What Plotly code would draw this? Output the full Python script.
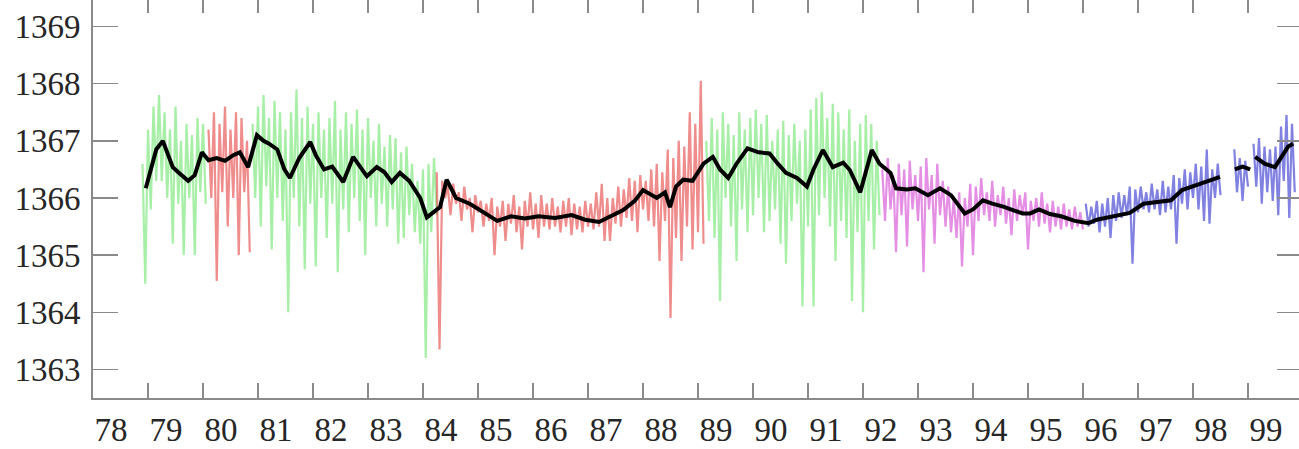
import plotly.graph_objects as go

# ---------------- data ----------------
# x: years (19xx), y: total solar irradiance (W/m^2)
year_ticks = [78, 79, 80, 81, 82, 83, 84, 85, 86, 87, 88, 89, 90, 91, 92, 93, 94, 95, 96, 97, 98, 99]
value_ticks = [1363, 1364, 1365, 1366, 1367, 1368, 1369]

# HF (green) 1978.9 - 1980.1 : sample times, upper value, lower value (lower sampled half a step later)
hf1_t = [78.9, 79.0, 79.1, 79.2, 79.3, 79.4, 79.5, 79.6, 79.7, 79.8, 79.9, 80.0]
hf1_hi = [1366.6, 1367.2, 1367.6, 1367.8, 1367.5, 1367.2, 1367.6, 1367.0, 1367.3, 1367.1, 1367.4, 1367.3]
hf1_lo = [1364.5, 1365.8, 1366.3, 1366.3, 1366.0, 1365.2, 1365.9, 1365.0, 1366.0, 1365.0, 1366.1, 1365.9]

# ACRIM I (red) 1980.1 - 1980.8
ac1_t = [80.1, 80.2, 80.3, 80.4, 80.5, 80.6, 80.7, 80.8]
ac1_hi = [1367.2, 1367.5, 1367.3, 1367.6, 1367.2, 1367.5, 1367.4, 1367.0]
ac1_lo = [1366.0, 1364.55, 1366.1, 1365.5, 1366.0, 1365.0, 1366.1, 1365.05]

# HF (green) 1980.9 - 1984.2
hf2_t = [80.9, 81.0, 81.1, 81.2, 81.3, 81.4, 81.5, 81.6, 81.7, 81.8, 81.9, 82.0,
         82.1, 82.2, 82.3, 82.4, 82.5, 82.6, 82.7, 82.8, 82.9, 83.0, 83.1, 83.2,
         83.3, 83.4, 83.5, 83.6, 83.7, 83.8, 83.9, 84.0, 84.1, 84.2]
hf2_hi = [1367.3, 1367.6, 1367.8, 1367.4, 1367.7, 1367.5, 1367.2, 1367.5, 1367.9, 1367.4, 1367.6, 1367.3,
          1367.5, 1367.2, 1367.4, 1367.7, 1367.2, 1367.5, 1367.3, 1367.55, 1367.2, 1367.4, 1367.0, 1367.3,
          1366.9, 1367.1, 1367.05, 1366.8, 1366.9, 1366.6, 1366.3, 1366.5, 1366.6, 1366.7]
hf2_lo = [1366.0, 1365.5, 1366.2, 1365.1, 1366.0, 1365.6, 1364.0, 1366.0, 1365.5, 1364.75, 1365.9, 1364.8,
          1366.0, 1365.3, 1365.9, 1364.7, 1365.8, 1365.4, 1366.0, 1365.6, 1365.0, 1366.0, 1365.5, 1365.9,
          1365.5, 1365.8, 1365.2, 1365.3, 1365.7, 1365.4, 1365.2, 1363.2, 1365.4, 1365.7]

# ACRIM I (red) 1984.25 - 1989.05
ac2_t = [84.25, 84.35, 84.45, 84.55, 84.65, 84.75, 84.85, 84.95, 85.05, 85.15, 85.25, 85.35,
         85.45, 85.55, 85.65, 85.75, 85.85, 85.95, 86.05, 86.15, 86.25, 86.35, 86.45, 86.55,
         86.65, 86.75, 86.85, 86.95, 87.05, 87.15, 87.25, 87.35, 87.45, 87.55, 87.65, 87.75,
         87.85, 87.95, 88.05, 88.15, 88.25, 88.35, 88.45, 88.55, 88.65, 88.75, 88.85, 88.95, 89.05]
ac2_hi = [1366.45, 1366.3, 1366.2, 1366.25, 1366.1, 1366.2, 1366.0, 1366.05, 1365.95, 1365.9, 1366.0, 1365.85,
          1365.95, 1365.9, 1366.05, 1365.85, 1365.95, 1366.1, 1365.9, 1366.05, 1365.9, 1366.0, 1365.85, 1365.95,
          1366.0, 1365.9, 1365.85, 1365.95, 1365.9, 1366.1, 1366.25, 1366.0, 1366.0, 1366.2, 1366.15, 1366.35,
          1366.3, 1366.4, 1366.3, 1366.5, 1366.6, 1366.45, 1366.85, 1366.7, 1367.0, 1366.9, 1367.5, 1367.3, 1368.05]
ac2_lo = [1363.35, 1366.0, 1365.7, 1365.9, 1365.6, 1365.8, 1365.4, 1365.75, 1365.5, 1365.6, 1365.0, 1365.5,
          1365.25, 1365.55, 1365.4, 1365.1, 1365.5, 1365.45, 1365.3, 1365.5, 1365.45, 1365.5, 1365.4, 1365.5,
          1365.35, 1365.45, 1365.4, 1365.5, 1365.45, 1365.5, 1365.25, 1365.25, 1365.55, 1365.5, 1365.65, 1365.6,
          1365.4, 1365.8, 1365.6, 1365.5, 1364.9, 1365.6, 1363.9, 1365.3, 1364.9, 1365.5, 1365.1, 1365.4, 1365.2]

# HF (green) 1989.15 - 1992.25
hf3_t = [89.15, 89.25, 89.35, 89.45, 89.55, 89.65, 89.75, 89.85, 89.95, 90.05, 90.15, 90.25,
         90.35, 90.45, 90.55, 90.65, 90.75, 90.85, 90.95, 91.05, 91.15, 91.25, 91.35, 91.45,
         91.55, 91.65, 91.75, 91.85, 91.95, 92.05, 92.15, 92.25]
hf3_hi = [1367.0, 1367.4, 1367.2, 1367.5, 1367.3, 1367.1, 1367.5, 1367.2, 1367.4, 1367.55, 1367.3, 1367.45,
          1367.0, 1367.2, 1367.35, 1367.1, 1367.3, 1367.0, 1367.2, 1367.55, 1367.75, 1367.85, 1367.4, 1367.65,
          1367.5, 1367.2, 1367.55, 1367.0, 1367.3, 1367.45, 1367.3, 1367.0]
hf3_lo = [1365.6, 1365.3, 1364.2, 1366.0, 1365.5, 1364.9, 1365.8, 1365.4, 1365.7, 1366.0, 1365.4, 1365.6,
          1365.8, 1365.2, 1364.85, 1365.6, 1365.9, 1364.1, 1365.5, 1364.1, 1365.7, 1366.0, 1365.5, 1364.9,
          1365.6, 1365.3, 1364.2, 1365.4, 1364.0, 1365.6, 1365.1, 1365.7]

# ERBS-type (magenta) 1992.35 - 1995.95
er_t = [92.35, 92.45, 92.55, 92.65, 92.75, 92.85, 92.95, 93.05, 93.15, 93.25, 93.35, 93.45,
        93.55, 93.65, 93.75, 93.85, 93.95, 94.05, 94.15, 94.25, 94.35, 94.45, 94.55, 94.65,
        94.75, 94.85, 94.95, 95.05, 95.15, 95.25, 95.35, 95.45, 95.55, 95.65, 95.75, 95.85, 95.95]
er_hi = [1366.5, 1366.7, 1366.4, 1366.6, 1366.5, 1366.65, 1366.4, 1366.55, 1366.7, 1366.4, 1366.6, 1366.3,
         1366.2, 1366.0, 1366.1, 1366.0, 1366.25, 1366.2, 1366.35, 1366.1, 1366.3, 1366.05, 1366.2, 1366.0,
         1366.15, 1366.05, 1366.1, 1365.95, 1366.0, 1366.1, 1365.9, 1365.95, 1365.85, 1365.9, 1365.8, 1365.85, 1365.75]
er_lo = [1365.6, 1365.8, 1365.05, 1365.7, 1365.15, 1365.8, 1365.6, 1364.7, 1365.8, 1365.2, 1365.7, 1365.5,
         1365.4, 1365.3, 1364.8, 1365.5, 1365.0, 1365.6, 1365.7, 1365.6, 1365.5, 1365.7, 1365.55, 1365.35,
         1365.6, 1365.7, 1365.1, 1365.6, 1365.5, 1365.55, 1365.4, 1365.5, 1365.45, 1365.5, 1365.45, 1365.5, 1365.45]

# VIRGO (blue) 1996.05 - 1998.45, 1998.75 - 1998.95, 1999.1 - 1999.8
vi1_t = [96.05, 96.15, 96.25, 96.35, 96.45, 96.55, 96.65, 96.75, 96.85, 96.95, 97.05, 97.15,
         97.25, 97.35, 97.45, 97.55, 97.65, 97.75, 97.85, 97.95, 98.05, 98.15, 98.25, 98.35, 98.45]
vi1_hi = [1365.9, 1365.85, 1365.95, 1365.9, 1366.0, 1366.05, 1366.1, 1366.05, 1366.2, 1366.15, 1366.2, 1366.1,
          1366.25, 1366.15, 1366.3, 1366.2, 1366.4, 1366.35, 1366.5, 1366.45, 1366.6, 1366.55, 1366.85, 1366.5, 1366.6]
vi1_lo = [1365.5, 1365.55, 1365.4, 1365.5, 1365.3, 1365.6, 1365.65, 1365.7, 1364.85, 1365.75, 1365.8, 1365.75,
          1365.8, 1365.7, 1365.75, 1365.8, 1365.2, 1365.9, 1365.8, 1366.0, 1365.8, 1365.6, 1365.55, 1366.0, 1366.05]
vi2_t = [98.75, 98.85, 98.95]
vi2_hi = [1366.85, 1366.7, 1366.65]
vi2_lo = [1366.1, 1365.95, 1366.2]
vi3_t = [99.1, 99.2, 99.3, 99.4, 99.5, 99.6, 99.7, 99.8]
vi3_hi = [1366.95, 1367.05, 1366.9, 1366.85, 1366.9, 1367.25, 1367.45, 1367.3]
vi3_lo = [1366.2, 1365.9, 1366.1, 1365.95, 1365.7, 1366.3, 1365.65, 1366.1]

# 81-day running mean (black)
mean_t = [78.96, 79.05, 79.15, 79.27, 79.35, 79.45, 79.55, 79.73, 79.85, 79.98, 80.1, 80.25,
          80.4, 80.55, 80.67, 80.82, 80.98, 81.1, 81.2, 81.35, 81.48, 81.58, 81.75, 81.95,
          82.05, 82.2, 82.35, 82.55, 82.73, 82.85, 82.98, 83.16, 83.3, 83.43, 83.58, 83.75,
          83.95, 84.07, 84.2, 84.31, 84.43, 84.6, 84.85, 85.1, 85.35, 85.6, 85.85, 86.1,
          86.4, 86.7, 86.95, 87.2, 87.45, 87.64, 87.85, 88.0, 88.25, 88.4, 88.49, 88.6,
          88.73, 88.9, 89.1, 89.27, 89.4, 89.55, 89.7, 89.9, 90.1, 90.3, 90.45, 90.6,
          90.8, 90.98, 91.1, 91.27, 91.45, 91.64, 91.76, 91.95, 92.16, 92.3, 92.5, 92.6,
          92.8, 92.95, 93.18, 93.4, 93.6, 93.85, 94.0, 94.18, 94.35, 94.55, 94.75, 94.9,
          95.04, 95.2, 95.4, 95.6, 95.85, 96.1, 96.25, 96.4, 96.6, 96.85, 97.1, 97.35,
          97.6, 97.8, 98.0, 98.18, 98.35, 98.49, None, 98.76, 98.9, 99.04, None,
          99.13, 99.3, 99.49, 99.62, 99.73, 99.82]
mean_v = [1366.17, 1366.5, 1366.85, 1367.0, 1366.8, 1366.54, 1366.45, 1366.3, 1366.4, 1366.8, 1366.66, 1366.7,
          1366.65, 1366.75, 1366.8, 1366.54, 1367.1, 1367.0, 1366.95, 1366.85, 1366.5, 1366.35, 1366.7, 1366.98,
          1366.75, 1366.5, 1366.55, 1366.28, 1366.72, 1366.55, 1366.38, 1366.54, 1366.45, 1366.28, 1366.44, 1366.3,
          1366.0, 1365.66, 1365.75, 1365.84, 1366.32, 1366.0, 1365.9, 1365.75, 1365.6, 1365.68, 1365.64, 1365.68,
          1365.65, 1365.7, 1365.62, 1365.58, 1365.7, 1365.79, 1365.95, 1366.14, 1366.0, 1366.1, 1365.84, 1366.2,
          1366.32, 1366.3, 1366.6, 1366.72, 1366.5, 1366.35, 1366.6, 1366.87, 1366.8, 1366.78, 1366.6, 1366.44,
          1366.35, 1366.2, 1366.5, 1366.84, 1366.54, 1366.62, 1366.49, 1366.1, 1366.84, 1366.6, 1366.44, 1366.17,
          1366.15, 1366.17, 1366.05, 1366.17, 1366.05, 1365.73, 1365.8, 1365.96, 1365.9, 1365.85, 1365.78, 1365.73,
          1365.73, 1365.8, 1365.72, 1365.68, 1365.6, 1365.56, 1365.62, 1365.65, 1365.68, 1365.74, 1365.9, 1365.93,
          1365.96, 1366.14, 1366.2, 1366.26, 1366.32, 1366.37, None, 1366.5, 1366.55, 1366.5, None,
          1366.72, 1366.6, 1366.54, 1366.75, 1366.9, 1366.95]

# ---------------- figure ----------------
HALF_STEP = 0.05  # lower sample taken half a sampling step after the upper one


def zigzag(t, hi, lo):
    xs, ys = [], []
    for ti, h, l in zip(t, hi, lo):
        xs += [ti, ti + HALF_STEP]
        ys += [h, l]
    return xs, ys


GREEN = "rgba(60,220,60,0.45)"
RED = "rgba(225,45,45,0.55)"
MAGENTA = "rgba(205,50,205,0.55)"
BLUE = "rgba(45,45,205,0.6)"

segments = [
    (hf1_t, hf1_hi, hf1_lo, GREEN),
    (ac1_t, ac1_hi, ac1_lo, RED),
    (hf2_t, hf2_hi, hf2_lo, GREEN),
    (ac2_t, ac2_hi, ac2_lo, RED),
    (hf3_t, hf3_hi, hf3_lo, GREEN),
    (er_t, er_hi, er_lo, MAGENTA),
    (vi1_t, vi1_hi, vi1_lo, BLUE),
    (vi2_t, vi2_hi, vi2_lo, BLUE),
    (vi3_t, vi3_hi, vi3_lo, BLUE),
]

fig = go.Figure()
for t, hi, lo, col in segments:
    xs, ys = zigzag(t, hi, lo)
    fig.add_trace(go.Scatter(x=xs, y=ys, mode="lines",
                             line=dict(color=col, width=2.2), hoverinfo="skip"))

fig.add_trace(go.Scatter(x=mean_t, y=mean_v, mode="lines", connectgaps=False,
                         line=dict(color="black", width=4), hoverinfo="skip"))

# invisible trace so the mirror axes are drawn
fig.add_trace(go.Scatter(x=[None], y=[None], xaxis="x2", yaxis="y2", showlegend=False))

XR = [78, 99.927]
YR = [1362.5, 1369.465]
AX_COL = "#8a8a8a"
FONT = dict(family="Liberation Serif, Times New Roman, serif", size=33, color="#262626")

fig.update_layout(
    width=1299, height=449,
    margin=dict(l=93, r=0, t=0, b=51, autoexpand=False),
    paper_bgcolor="white", plot_bgcolor="white",
    showlegend=False,
    font=FONT,
    xaxis=dict(range=XR, tickmode="array", tickvals=year_ticks,
               ticktext=[str(v) for v in year_ticks],
               ticks="inside", ticklen=15, tickwidth=1.5, tickcolor=AX_COL,
               showline=True, linecolor=AX_COL, linewidth=2,
               showgrid=False, zeroline=False, tickfont=FONT,
               ticklabelstandoff=1, ticklabelshift=18),
    yaxis=dict(range=YR, tickmode="array", tickvals=value_ticks,
               ticktext=[str(v) for v in value_ticks],
               ticks="inside", ticklen=25, tickwidth=1.5, tickcolor=AX_COL,
               showline=True, linecolor=AX_COL, linewidth=2,
               showgrid=False, zeroline=False, tickfont=FONT, ticklabelstandoff=4),
    xaxis2=dict(range=XR, overlaying="x", side="top", anchor="y", tickmode="array",
                tickvals=year_ticks, ticks="inside", ticklen=13, tickwidth=1.5,
                tickcolor=AX_COL, showticklabels=False, showline=False,
                showgrid=False, zeroline=False),
    yaxis2=dict(range=YR, overlaying="y", side="right", anchor="x", tickmode="array",
                tickvals=value_ticks, ticks="inside", ticklen=22, tickwidth=1.5,
                tickcolor=AX_COL, showticklabels=False, showline=False,
                showgrid=False, zeroline=False),
)

fig.write_html("out.html", config={"displayModeBar": False, "staticPlot": True},
               post_script="document.body.style.margin='0';document.body.style.padding='0';")
